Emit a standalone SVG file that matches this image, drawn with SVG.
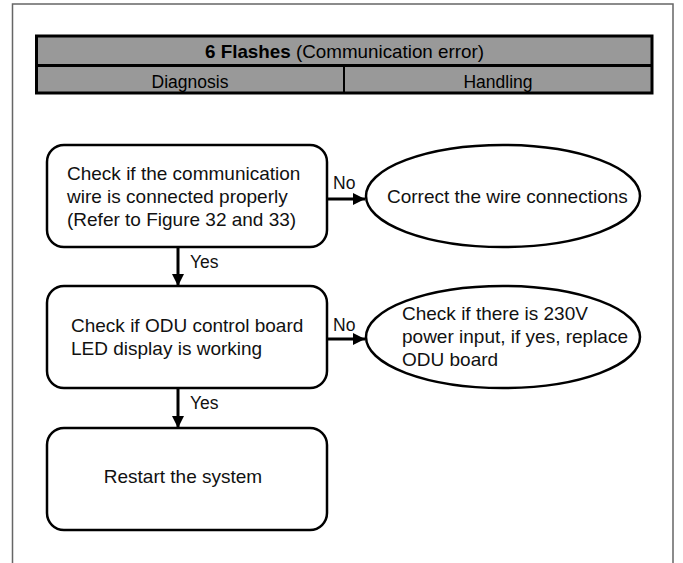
<svg xmlns="http://www.w3.org/2000/svg" width="683" height="563" viewBox="0 0 683 563">
<style>
  .frame{fill:none;stroke:#666;stroke-width:1.5}
  .hdr{fill:#999;stroke:#000;stroke-width:3}
  .hdrt{font-family:"Liberation Sans",Arial,sans-serif;font-size:17.5px;fill:#000}
  .node{fill:#fff;stroke:#000;stroke-width:2.5}
  .t{font-family:"Liberation Sans",Arial,sans-serif;font-size:19px;fill:#111}
  .lbl{font-family:"Liberation Sans",Arial,sans-serif;font-size:17.5px;fill:#111}
  .conn{stroke:#000;stroke-width:3;fill:none}
</style>
<defs>
  <marker id="ah" viewBox="0 0 10 10" refX="10" refY="5" markerWidth="5" markerHeight="4" orient="auto" markerUnits="strokeWidth">
    <path d="M0,0 L10,5 L0,10 Z" fill="#000"/>
  </marker>
</defs>
<rect width="683" height="563" fill="#fff"/>
<path class="frame" d="M12.5,563 V4 H673 V563"/>
<g id="header">
  <rect class="hdr" x="36.5" y="36" width="615.5" height="57"/>
  <line x1="36.5" y1="65.5" x2="652" y2="65.5" stroke="#000" stroke-width="3"/>
  <line x1="344" y1="65.5" x2="344" y2="93" stroke="#000" stroke-width="2"/>
  <text class="hdrt" x="344.5" y="57.5" text-anchor="middle" textLength="279" lengthAdjust="spacingAndGlyphs" style="font-size:19px"><tspan font-weight="bold">6 Flashes</tspan> (Communication error)</text>
  <text class="hdrt" x="190" y="87.5" text-anchor="middle">Diagnosis</text>
  <text class="hdrt" x="498" y="87.5" text-anchor="middle">Handling</text>
</g>
<g id="node1">
  <rect class="node" x="47" y="145" width="280" height="102" rx="17"/>
  <text class="t" x="67" y="180">Check if the communication</text>
  <text class="t" x="67" y="203">wire is connected properly</text>
  <text class="t" x="67" y="226">(Refer to Figure 32 and 33)</text>
</g>
<g id="node2">
  <ellipse class="node" cx="503" cy="196" rx="137" ry="51"/>
  <text class="t" x="387" y="203">Correct the wire connections</text>
</g>
<g id="node3">
  <rect class="node" x="47" y="286" width="280" height="102" rx="17"/>
  <text class="t" x="71" y="332">Check if ODU control board</text>
  <text class="t" x="71" y="355">LED display is working</text>
</g>
<g id="node4">
  <ellipse class="node" cx="503" cy="337" rx="137" ry="51"/>
  <text class="t" x="402" y="320">Check if there is 230V</text>
  <text class="t" x="402" y="343">power input, if yes, replace</text>
  <text class="t" x="402" y="366">ODU board</text>
</g>
<g id="node5">
  <rect class="node" x="47" y="428" width="280" height="102" rx="17"/>
  <text class="t" x="183" y="483" text-anchor="middle">Restart the system</text>
</g>
<g id="connectors">
  <line class="conn" x1="327" y1="199" x2="365" y2="199" marker-end="url(#ah)"/>
  <text class="lbl" x="333" y="189">No</text>
  <line class="conn" x1="178" y1="247" x2="178" y2="286" marker-end="url(#ah)"/>
  <text class="lbl" x="190" y="268">Yes</text>
  <line class="conn" x1="327" y1="339" x2="365" y2="339" marker-end="url(#ah)"/>
  <text class="lbl" x="333" y="331">No</text>
  <line class="conn" x1="178" y1="388" x2="178" y2="428" marker-end="url(#ah)"/>
  <text class="lbl" x="190" y="409">Yes</text>
</g>
</svg>
